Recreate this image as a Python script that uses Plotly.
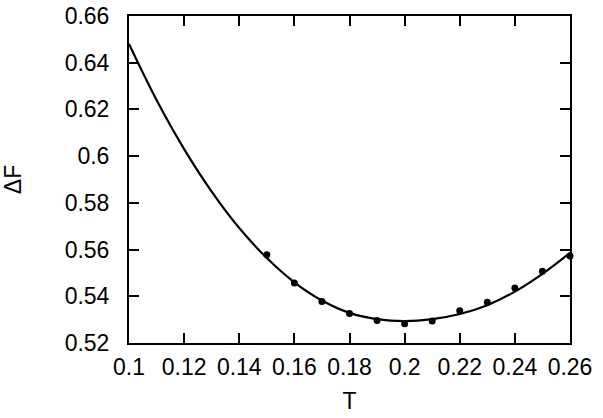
import plotly.graph_objects as go

# Data points (markers)
T_pts = [0.15, 0.16, 0.17, 0.18, 0.19, 0.20, 0.21, 0.22, 0.23, 0.24, 0.25, 0.26]
dF_pts = [0.5578, 0.5457, 0.5378, 0.5326, 0.5296, 0.5282, 0.5294, 0.5338, 0.5374, 0.5436, 0.5507, 0.5572]

# Fitted curve
T_fit = [0.10, 0.11, 0.12, 0.13, 0.14, 0.15, 0.16, 0.17, 0.18, 0.19, 0.20, 0.21, 0.22, 0.23, 0.24, 0.25, 0.26]
dF_fit = [0.6480, 0.6240, 0.6030, 0.5848, 0.5692, 0.5564, 0.5460, 0.5382, 0.5329, 0.5302, 0.5294, 0.5302, 0.5324, 0.5362, 0.5420, 0.5496, 0.5586]

x_ticks = [0.1, 0.12, 0.14, 0.16, 0.18, 0.2, 0.22, 0.24, 0.26]
y_ticks = [0.52, 0.54, 0.56, 0.58, 0.6, 0.62, 0.64, 0.66]

fig = go.Figure()
fig.add_trace(go.Scatter(x=T_fit, y=dF_fit, mode="lines", line=dict(color="black", width=2.2, shape="spline", smoothing=1.0),
                         showlegend=False, hoverinfo="skip"))
fig.add_trace(go.Scatter(x=T_pts, y=dF_pts, mode="markers", marker=dict(color="black", size=7),
                         showlegend=False, cliponaxis=False))

font = dict(family="Liberation Sans, Arial, sans-serif", size=23, color="black")
fig.update_layout(
    width=603, height=418,
    margin=dict(l=129, r=33, t=16, b=75, autoexpand=False),
    paper_bgcolor="white", plot_bgcolor="white",
    font=font,
)
fig.update_xaxes(range=[0.1, 0.26], tickvals=x_ticks, ticktext=[f"{v:g}" for v in x_ticks],
                 ticks="inside", ticklen=10, tickwidth=1.5, tickcolor="black",
                 showline=True, linecolor="black", linewidth=2, mirror="ticks",
                 showgrid=False, zeroline=False, ticklabelstandoff=2, automargin=False,
                 ticklabeloverflow="allow",
                 title=dict(text="T", standoff=14, font=font))
fig.update_yaxes(range=[0.52, 0.66], tickvals=y_ticks, ticktext=[f"{v:g}" for v in y_ticks],
                 ticks="inside", ticklen=10, tickwidth=1.5, tickcolor="black",
                 showline=True, linecolor="black", linewidth=2, mirror="ticks",
                 showgrid=False, zeroline=False, ticklabelstandoff=13, automargin=False,
                 ticklabeloverflow="allow",
                 title=dict(text="ΔF", standoff=41, font=font))

fig.write_html("out.html", config={"displayModeBar": False},
               post_script="document.body.style.margin='0';")
